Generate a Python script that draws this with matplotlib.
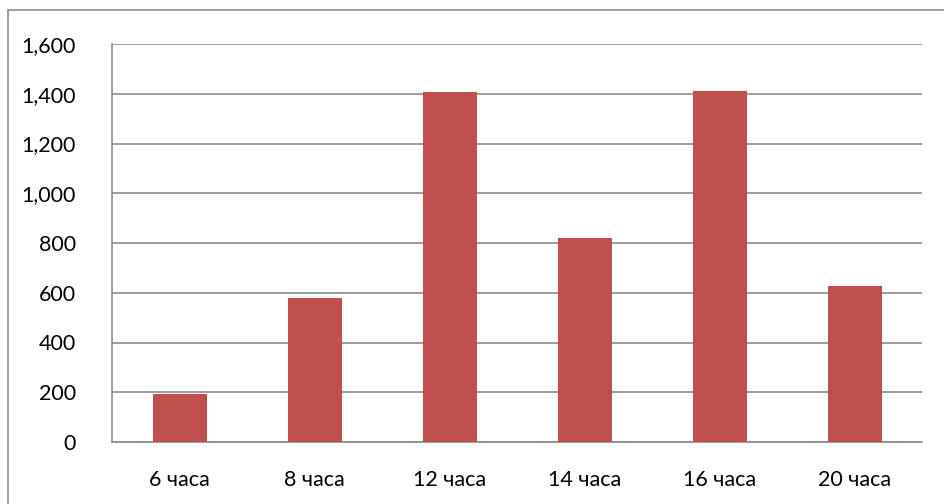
import matplotlib.pyplot as plt
from matplotlib.patches import Rectangle
from matplotlib.ticker import FuncFormatter

categories = ['6 часа', '8 часа', '12 часа', '14 часа', '16 часа', '20 часа']
values = [193, 580, 1407, 820, 1410, 627]
yticks = [0, 200, 400, 600, 800, 1000, 1200, 1400, 1600]

plt.rcParams['font.family'] = ['Lato', 'DejaVu Sans']

fig = plt.figure(figsize=(9.44, 5.04), dpi=100)
ax = fig.add_axes([112 / 944, 62 / 504, 810 / 944, 398 / 504])

x = range(len(categories))
ax.bar(x, values, width=0.4, color='#C0504D', zorder=3)

ax.set_xlim(-0.5, len(categories) - 0.5)
ax.set_ylim(0, 1600)
ax.set_yticks(yticks)
ax.yaxis.set_major_formatter(FuncFormatter(lambda v, p: f'{int(v):,}'))
ax.set_xticks(list(x))
ax.set_xticklabels(categories)
ax.tick_params(axis='both', length=0, labelsize=15.5, colors='black')
ax.tick_params(axis='y', pad=26)
ax.tick_params(axis='x', pad=20)

ax.grid(axis='y', color='#8c8c8c', linewidth=1.2, zorder=0)
for s in ['top', 'right']:
    ax.spines[s].set_visible(False)
for s in ['left', 'bottom']:
    ax.spines[s].set_color('#8c8c8c')
    ax.spines[s].set_linewidth(1.2)

# outer chart frame
fig.patches.append(Rectangle((8 / 944, -0.1), 1.2, (494 / 504) + 0.1,
                             transform=fig.transFigure, fill=False,
                             edgecolor='#8c8c8c', linewidth=1.2))

fig.savefig('out.png', dpi=100)
